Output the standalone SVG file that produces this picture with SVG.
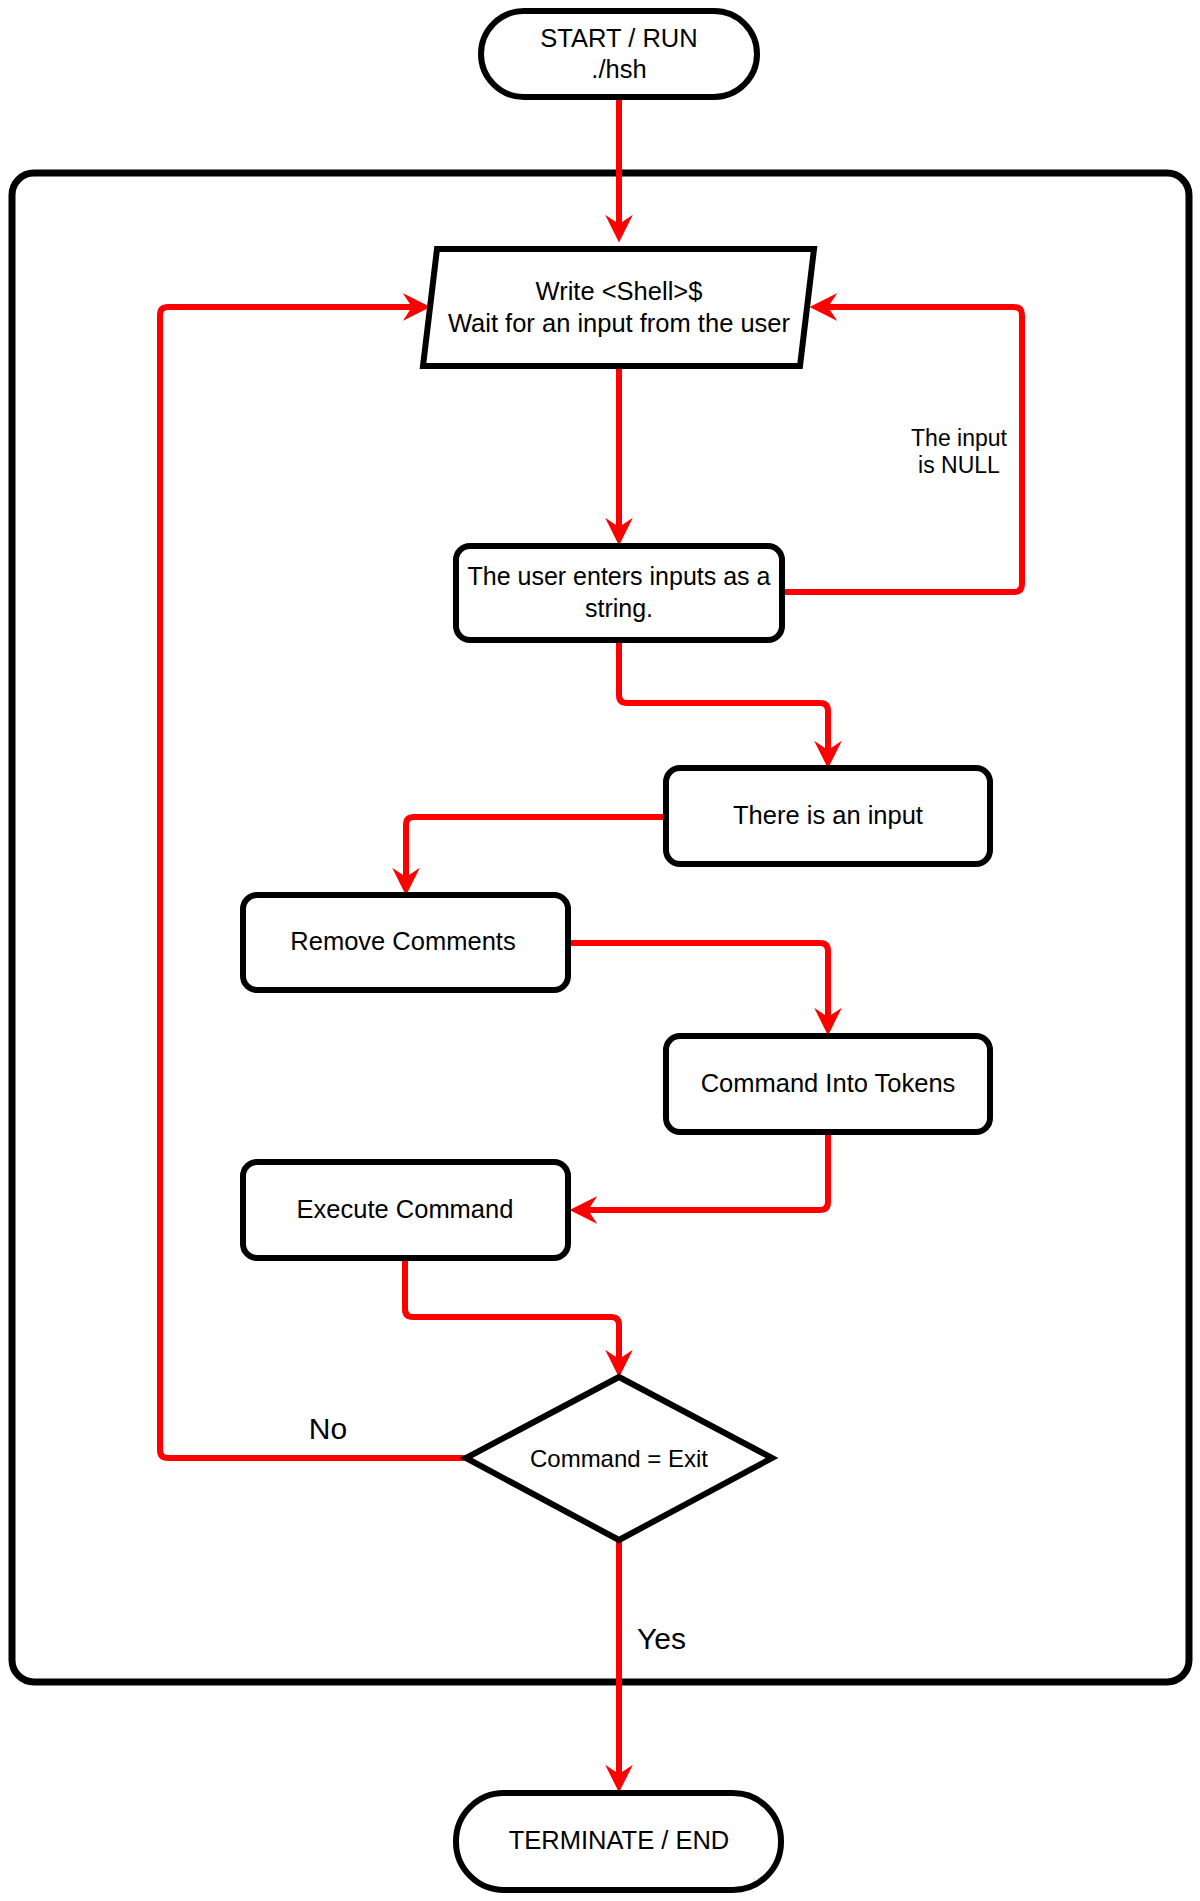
<svg xmlns="http://www.w3.org/2000/svg" width="1200" height="1901" viewBox="0 0 1200 1901">
<style>
.shape{fill:#fff;stroke:#000;stroke-width:6;stroke-linejoin:miter}
.frame{fill:none;stroke:#000;stroke-width:7}
.edge{fill:none;stroke:#ff0000;stroke-width:6}
.t{font-family:"Liberation Sans",Arial,Helvetica,sans-serif;font-size:25.5px;fill:#000;text-anchor:middle}
.s{font-size:23px}
.big{font-size:30px}
</style>
<defs>
<marker id="arr" markerUnits="userSpaceOnUse" markerWidth="30" markerHeight="30" viewBox="0 -13 26 26" refX="8" refY="0" orient="auto">
<path d="M0,-12 L24,0 L0,12 L8,0 Z" fill="#ff0000"/>
</marker>
</defs>
<rect id="container" class="frame" x="12" y="173" width="1177" height="1509" rx="22" ry="22"/>
<g id="edges">
<path class="edge" marker-end="url(#arr)" d="M619,97 V224"/>
<path class="edge" marker-end="url(#arr)" d="M619,366 V527"/>
<path class="edge" marker-end="url(#arr)" d="M782,592 H1014 Q1022,592 1022,584 V315 Q1022,307 1014,307 H828"/>
<path class="edge" marker-end="url(#arr)" d="M619,640 V695 Q619,703 627,703 H820 Q828,703 828,711 V750"/>
<path class="edge" marker-end="url(#arr)" d="M666,817 H414 Q406,817 406,825 V877"/>
<path class="edge" marker-end="url(#arr)" d="M568,943 H820 Q828,943 828,951 V1017"/>
<path class="edge" marker-end="url(#arr)" d="M828,1132 V1202 Q828,1210 820,1210 H588"/>
<path class="edge" marker-end="url(#arr)" d="M405,1258 V1309 Q405,1317 413,1317 H611 Q619,1317 619,1325 V1359"/>
<path class="edge" marker-end="url(#arr)" d="M466,1458 H168 Q160,1458 160,1450 V315 Q160,307 168,307 H412"/>
<path class="edge" marker-end="url(#arr)" d="M619,1540 V1774"/>
<text class="t s" x="959" y="446">The input</text>
<text class="t s" x="959" y="473">is NULL</text>
<text class="t big" x="328" y="1439">No</text>
<text class="t big" x="637" y="1649" style="text-anchor:start">Yes</text>
</g>
<g id="start">
<rect class="shape" x="481" y="11" width="276" height="86" rx="43" ry="43"/>
<text class="t" x="619" y="47">START / RUN</text>
<text class="t" x="619" y="78">./hsh</text>
</g>
<g id="write">
<polygon class="shape" points="437,249 814,249 800,366 423,366" stroke-width="7"/>
<text class="t" x="619" y="300">Write &lt;Shell&gt;$</text>
<text class="t" x="619" y="332">Wait for an input from the user</text>
</g>
<g id="user">
<rect class="shape" x="456" y="546" width="326" height="94" rx="14" ry="14"/>
<text class="t" x="619" y="585" style="font-size:25px">The user enters inputs as a</text>
<text class="t" x="619" y="617" style="font-size:25px">string.</text>
</g>
<g id="input">
<rect class="shape" x="666" y="768" width="324" height="96" rx="14" ry="14"/>
<text class="t" x="828" y="824">There is an input</text>
</g>
<g id="remove">
<rect class="shape" x="243" y="895" width="325" height="95" rx="14" ry="14"/>
<text class="t" x="403" y="950">Remove Comments</text>
</g>
<g id="tokens">
<rect class="shape" x="666" y="1036" width="324" height="96" rx="14" ry="14"/>
<text class="t" x="828" y="1092">Command Into Tokens</text>
</g>
<g id="execute">
<rect class="shape" x="243" y="1162" width="325" height="96" rx="14" ry="14"/>
<text class="t" x="405" y="1218">Execute Command</text>
</g>
<g id="decision">
<polygon class="shape" points="619,1377 772,1458 619,1540 466,1458"/>
<text class="t" x="619" y="1467" style="font-size:24px">Command = Exit</text>
</g>
<g id="end">
<rect class="shape" x="456" y="1793" width="325" height="97" rx="48" ry="48"/>
<text class="t" x="619" y="1849">TERMINATE / END</text>
</g>
</svg>
